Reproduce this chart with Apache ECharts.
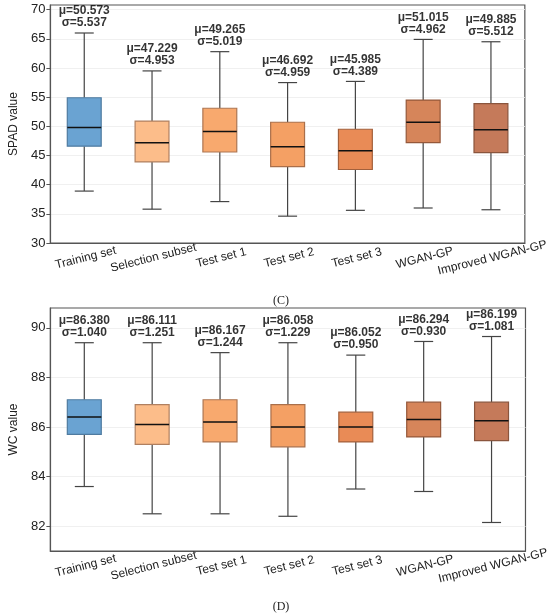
<!DOCTYPE html>
<html>
<head>
<meta charset="utf-8">
<script src="https://cdn.jsdelivr.net/npm/echarts@6/dist/echarts.min.js"></script>
<style>
  html, body { margin: 0; padding: 0; background: #fff; }
  #chart { width: 550px; height: 615px; }
</style>
</head>
<body>
<div id="chart"></div>
<script>
// categories shared by both panels
const categories = ['Training set', 'Selection subset', 'Test set 1', 'Test set 2', 'Test set 3', 'WGAN-GP', 'Improved WGAN-GP']

// (C) SPAD: [low whisker, Q1, median, Q3, high whisker]
const spadBoxes = [
  [38.9, 46.6, 49.8, 54.9, 66.0],
  [35.8, 43.9, 47.2, 50.9, 59.5],
  [37.1, 45.6, 49.1, 53.1, 62.8],
  [34.6, 43.1, 46.5, 50.7, 57.5],
  [35.6, 42.6, 45.8, 49.5, 57.7],
  [36.0, 47.2, 50.7, 54.5, 64.9],
  [35.7, 45.5, 49.4, 53.9, 64.5]
]
const spadMean = [50.573, 47.229, 49.265, 46.692, 45.985, 51.015, 49.885]
const spadStd = [5.537, 4.953, 5.019, 4.959, 4.389, 4.962, 5.512]
const spadTicks = [30, 35, 40, 45, 50, 55, 60, 65, 70]

// (D) WC
const wcBoxes = [
  [83.6, 85.7, 86.4, 87.1, 89.4],
  [82.5, 85.3, 86.1, 86.9, 89.4],
  [82.5, 85.4, 86.2, 87.1, 89.0],
  [82.4, 85.2, 86.0, 86.9, 89.4],
  [83.5, 85.4, 86.0, 86.6, 88.9],
  [83.4, 85.6, 86.3, 87.0, 89.45],
  [82.15, 85.45, 86.25, 87.0, 89.65]
]
const wcMean = [86.380, 86.111, 86.167, 86.058, 86.052, 86.294, 86.199]
const wcStd = [1.040, 1.251, 1.244, 1.229, 0.950, 0.930, 1.081]
const wcTicks = [82, 84, 86, 88, 90]

const fills = ['#6aa3d2', '#fcbd8a', '#f8a96e', '#f4a064', '#e98b56', '#d6855a', '#c57a5a']
const edges = ['#4f7ba0', '#b08060', '#ad7652', '#aa6f4a', '#a3603c', '#95583a', '#8a553d']

const font = 'Arial, "Liberation Sans", sans-serif'

function boxItem(params, api) {
  const i = api.value(0)
  const lo = api.coord([i, api.value(1)])
  const q1 = api.coord([i, api.value(2)])
  const med = api.coord([i, api.value(3)])
  const q3 = api.coord([i, api.value(4)])
  const hi = api.coord([i, api.value(5)])
  const band = api.size([1, 0])[0]
  const half = band * 0.25
  const cap = band * 0.14
  const x = lo[0]
  const ln = { stroke: '#444', lineWidth: 1.2 }
  return {
    type: 'group',
    children: [
      { type: 'line', shape: { x1: x, y1: hi[1], x2: x, y2: q3[1] }, style: ln },
      { type: 'line', shape: { x1: x, y1: q1[1], x2: x, y2: lo[1] }, style: ln },
      { type: 'line', shape: { x1: x - cap, y1: hi[1], x2: x + cap, y2: hi[1] }, style: ln },
      { type: 'line', shape: { x1: x - cap, y1: lo[1], x2: x + cap, y2: lo[1] }, style: ln },
      {
        type: 'rect',
        shape: { x: x - half, y: q3[1], width: half * 2, height: q1[1] - q3[1] },
        style: { fill: fills[i], stroke: edges[i], lineWidth: 1.2 }
      },
      { type: 'line', shape: { x1: x - half, y1: med[1], x2: x + half, y2: med[1] }, style: { stroke: '#111', lineWidth: 1.5 } }
    ]
  }
}

function panel(idx, boxes, mean, std, ticks, min, max, name) {
  const data = boxes.map((b, i) => [i].concat(b))
  return {
    xAxis: {
      type: 'category',
      gridIndex: idx,
      data: categories,
      boundaryGap: true,
      axisLine: { lineStyle: { color: '#555', width: 1.2 } },
      axisTick: { alignWithLabel: true, length: 4, lineStyle: { color: '#555' } },
      axisLabel: {
        rotate: 14, align: 'center', verticalAlign: 'top',
        fontSize: 12, color: '#222', fontFamily: font, margin: 9, interval: 0
      },
      splitLine: { show: false }
    },
    yAxis: {
      type: 'value',
      gridIndex: idx,
      min: min,
      max: max,
      name: name,
      nameLocation: 'middle',
      nameGap: 22,
      nameTextStyle: { fontSize: 12, color: '#222', fontFamily: font },
      axisLine: { show: true, lineStyle: { color: '#555', width: 1.2 } },
      axisTick: { show: true, length: 4, customValues: ticks, lineStyle: { color: '#555' } },
      axisLabel: { fontSize: 13, color: '#222', fontFamily: font, margin: 5, customValues: ticks },
      splitLine: { show: true, lineStyle: { color: '#f0f0f0', width: 1 } }
    },
    series: [
      {
        type: 'custom',
        xAxisIndex: idx,
        yAxisIndex: idx,
        renderItem: boxItem,
        encode: { x: 0, y: [1, 2, 3, 4, 5] },
        data: data,
        z: 2
      },
      {
        type: 'scatter',
        xAxisIndex: idx,
        yAxisIndex: idx,
        symbolSize: 0,
        data: boxes.map((b, i) => [i, b[4]]),
        label: {
          show: true,
          position: 'top',
          distance: 4,
          fontSize: 12,
          fontWeight: 'bold',
          lineHeight: 12,
          color: '#000',
          fontFamily: font,
          formatter: (p) => 'μ=' + mean[p.dataIndex].toFixed(3) + '\nσ=' + std[p.dataIndex].toFixed(3)
        },
        z: 3
      }
    ]
  }
}

const panelC = panel(0, spadBoxes, spadMean, spadStd, spadTicks, 30, 70.8, 'SPAD value')
const panelD = panel(1, wcBoxes, wcMean, wcStd, wcTicks, 81, 90.8, 'WC value')

const chart = echarts.init(document.getElementById('chart'), null, { renderer: 'canvas' })
chart.setOption({
  animation: false,
  backgroundColor: '#fff',
  title: [
    { text: '(C)', left: 276, top: 290, textAlign: 'center', textStyle: { fontSize: 12, fontWeight: 'normal', color: '#222', fontFamily: '"Liberation Serif", "DejaVu Serif", serif' } },
    { text: '(D)', left: 276, top: 596, textAlign: 'center', textStyle: { fontSize: 12, fontWeight: 'normal', color: '#222', fontFamily: '"Liberation Serif", "DejaVu Serif", serif' } }
  ],
  grid: [
    { left: 38, top: 5, width: 490, height: 238, show: true, borderColor: '#555', borderWidth: 1.2, backgroundColor: '#fff' },
    { left: 34, top: 308, width: 499, height: 243, show: true, borderColor: '#555', borderWidth: 1.2, backgroundColor: '#fff' }
  ],
  xAxis: [panelC.xAxis, panelD.xAxis],
  yAxis: [panelC.yAxis, panelD.yAxis],
  series: panelC.series.concat(panelD.series)
})
</script>
</body>
</html>
